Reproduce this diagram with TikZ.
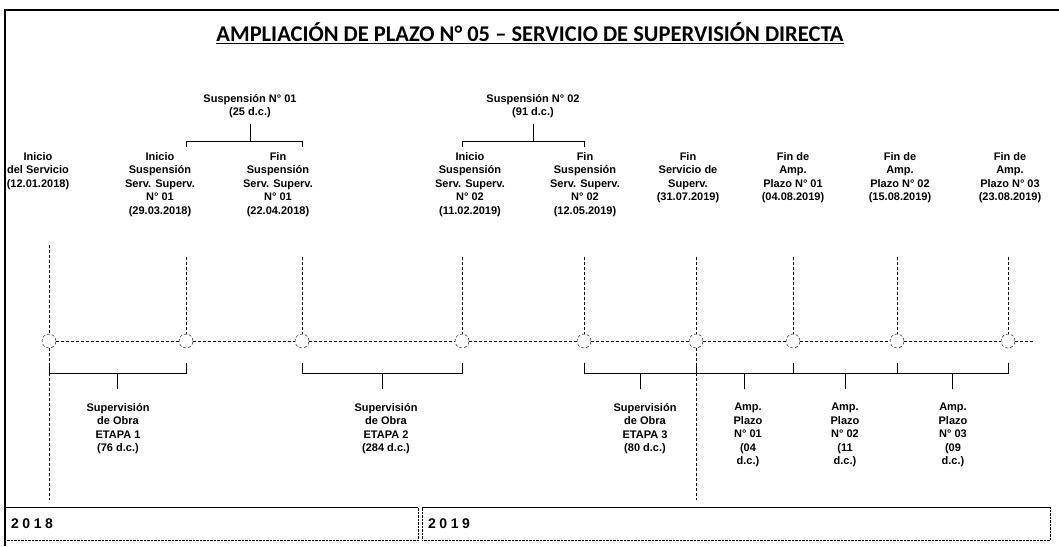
\documentclass[tikz,border=0pt]{standalone}
\usepackage{fontspec}
\setmainfont{Liberation Sans}
\newfontfamily\titlefont{Carlito}
\usetikzlibrary{positioning, calc}

\begin{document}
\begin{tikzpicture}[x=1pt, y=-1pt]
			\tikzset{
				hito/.style = {font={\bfseries\fontsize{11}{13.5}\selectfont}, align=center, anchor=north, inner sep=0pt},
				marca/.style = {circle, draw, densely dashed, minimum size=14pt, inner sep=0pt},
				linea/.style = {densely dashed, line width=0.6pt},
				llave/.style = {line width=0.8pt},
				caja/.style = {draw, densely dotted, anchor=north west, minimum height=33pt, inner xsep=6pt, align=left, font={\bfseries\fontsize{14}{16}\selectfont\addfontfeatures{LetterSpace=25}}},
			}

			\useasboundingbox (0,0) rectangle (1059,546);
			\draw[line width=1.5pt] (1059,10) -- (5,10) -- (5,546);

			\node[font={\titlefont\bfseries\fontsize{22.5}{26}\selectfont}] (titulo) at (530,33) {\underline{AMPLIACIÓN DE PLAZO N° 05 – SERVICIO DE SUPERVISIÓN DIRECTA}};

			\foreach \x [count=\i] in {49, 186, 302, 462, 584, 696, 793, 897, 1008}
				{
					\node[marca] (t\i) at (\x,341) {};
					\coordinate (a\i) at (\x,257);
				}
			\coordinate (a1) at (49,245);
			\coordinate (fin) at (1035,341);

			\foreach \x/\txt [count=\i] in {38/{Inicio\\del Servicio\\(12.01.2018)}, 160/{Inicio\\Suspensión\\Serv. Superv.\\N° 01\\(29.03.2018)}, 278/{Fin\\Suspensión\\Serv. Superv.\\N° 01\\(22.04.2018)}, 470/{Inicio\\Suspensión\\Serv. Superv.\\N° 02\\(11.02.2019)}, 585/{Fin\\Suspensión\\Serv. Superv.\\N° 02\\(12.05.2019)}, 688/{Fin\\Servicio de\\Superv.\\(31.07.2019)}, 793/{Fin de\\Amp.\\Plazo N° 01\\(04.08.2019)}, 900/{Fin de\\Amp.\\Plazo N° 02\\(15.08.2019)}, 1010/{Fin de\\Amp.\\Plazo N° 03\\(23.08.2019)}}
				{
					\node[hito] (l\i) at (\x,152) {\txt};
					\draw[linea] (a\i) -- (t\i);
				}

			\foreach \i [remember=\i as \prev (initially 1)] in {2,...,9}
				{
					\draw[linea] (t\prev) -- (t\i);
				}
			\draw[linea] (t9) -- (fin);

			\coordinate (b1) at (49,500);
			\coordinate (b6) at (696,500);
			\draw[linea] (t1) -- (b1);
			\draw[linea] (t6) -- (b6);

			\node[hito] (s1) at (250,94) {Suspensión N° 01\\(25 d.c.)};
			\node[hito] (s2) at (533,94) {Suspensión N° 02\\(91 d.c.)};
			\coordinate (c1) at (250,141);
			\coordinate (c2) at (533,141);
			\draw[llave, shorten <=6pt] (s1) -- (c1);
			\draw[llave, shorten <=6pt] (s2) -- (c2);
			\draw[llave] (t2 |- c1) ++(0,6) -- (t2 |- c1) -- (t3 |- c1) -- ++(0,6);
			\draw[llave] (t4 |- c2) ++(0,6) -- (t4 |- c2) -- (t5 |- c2) -- ++(0,6);

			\foreach \a/\b in {1/2, 3/4, 5/6, 6/7, 7/8, 8/9}
				{
					\draw[llave] ([yshift=-15pt]t\a.south) -- ++(0,10) -| ([yshift=-15pt]t\b.south);
					\draw[llave] ($(t\a.south)!0.5!(t\b.south)+(0,25)$) -- ++(0,16);
				}

			\foreach \x/\txt [count=\i] in {118/{Supervisión\\de Obra\\ETAPA 1\\(76 d.c.)}, 386/{Supervisión\\de Obra\\ETAPA 2\\(284 d.c.)}, 645/{Supervisión\\de Obra\\ETAPA 3\\(80 d.c.)}, 748/{Amp.\\Plazo\\N° 01\\(04\\d.c.)}, 845/{Amp.\\Plazo\\N° 02\\(11\\d.c.)}, 953/{Amp.\\Plazo\\N° 03\\(09\\d.c.)}}
				{
					\node[hito] (e\i) at (\x,403) {\txt};
				}

			\node[caja, text width=401pt] (y2018) at (5,507) {2018};
			\node[caja, text width=616pt] (y2019) at (422,507) {2019};
			\draw[line width=0.8pt] (y2018.north west) -- (y2018.north east);
			\draw[line width=0.8pt] (y2019.north west) -- (y2019.north east);

		\end{tikzpicture}
\end{document}
